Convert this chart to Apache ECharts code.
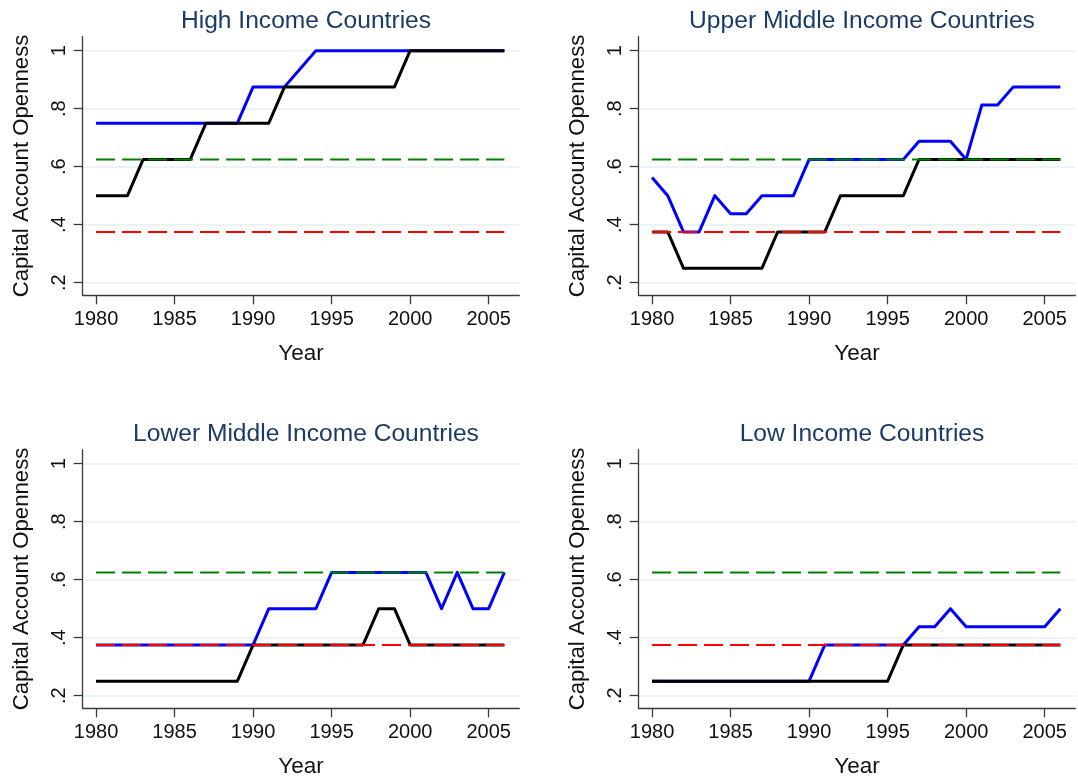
<!DOCTYPE html>
<html>
<head>
<meta charset="utf-8">
<script src="https://cdn.jsdelivr.net/npm/echarts@6/dist/echarts.min.js"></script>
<style>
  html, body { margin: 0; padding: 0; background: #ffffff; }
  #chart { width: 1078px; height: 781px; }
</style>
</head>
<body>
<div id="chart"></div>
<script>
// Years on the horizontal axis
const years = [1980, 1981, 1982, 1983, 1984, 1985, 1986, 1987, 1988, 1989,
               1990, 1991, 1992, 1993, 1994, 1995, 1996, 1997, 1998, 1999,
               2000, 2001, 2002, 2003, 2004, 2005, 2006];
const xTicks = [1980, 1985, 1990, 1995, 2000, 2005];
const yTicks = [0.2, 0.4, 0.6, 0.8, 1];

const panelTitles = ['High Income Countries', 'Upper Middle Income Countries',
                     'Lower Middle Income Countries', 'Low Income Countries'];

// Blue line per income group
const highBlue  = [0.75, 0.75, 0.75, 0.75, 0.75, 0.75, 0.75, 0.75, 0.75, 0.75,
                   0.875, 0.875, 0.875, 0.9375, 1, 1, 1, 1, 1, 1,
                   1, 1, 1, 1, 1, 1, 1];
const upperBlue = [0.5625, 0.5, 0.375, 0.375, 0.5, 0.4375, 0.4375, 0.5, 0.5, 0.5,
                   0.625, 0.625, 0.625, 0.625, 0.625, 0.625, 0.625, 0.6875, 0.6875, 0.6875,
                   0.625, 0.8125, 0.8125, 0.875, 0.875, 0.875, 0.875];
const lowerBlue = [0.375, 0.375, 0.375, 0.375, 0.375, 0.375, 0.375, 0.375, 0.375, 0.375,
                   0.375, 0.5, 0.5, 0.5, 0.5, 0.625, 0.625, 0.625, 0.625, 0.625,
                   0.625, 0.625, 0.5, 0.625, 0.5, 0.5, 0.625];
const lowBlue   = [0.25, 0.25, 0.25, 0.25, 0.25, 0.25, 0.25, 0.25, 0.25, 0.25,
                   0.25, 0.375, 0.375, 0.375, 0.375, 0.375, 0.375, 0.4375, 0.4375, 0.5,
                   0.4375, 0.4375, 0.4375, 0.4375, 0.4375, 0.4375, 0.5];

// Black line per income group
const highBlack  = [0.5, 0.5, 0.5, 0.625, 0.625, 0.625, 0.625, 0.75, 0.75, 0.75,
                    0.75, 0.75, 0.875, 0.875, 0.875, 0.875, 0.875, 0.875, 0.875, 0.875,
                    1, 1, 1, 1, 1, 1, 1];
const upperBlack = [0.375, 0.375, 0.25, 0.25, 0.25, 0.25, 0.25, 0.25, 0.375, 0.375,
                    0.375, 0.375, 0.5, 0.5, 0.5, 0.5, 0.5, 0.625, 0.625, 0.625,
                    0.625, 0.625, 0.625, 0.625, 0.625, 0.625, 0.625];
const lowerBlack = [0.25, 0.25, 0.25, 0.25, 0.25, 0.25, 0.25, 0.25, 0.25, 0.25,
                    0.375, 0.375, 0.375, 0.375, 0.375, 0.375, 0.375, 0.375, 0.5, 0.5,
                    0.375, 0.375, 0.375, 0.375, 0.375, 0.375, 0.375];
const lowBlack   = [0.25, 0.25, 0.25, 0.25, 0.25, 0.25, 0.25, 0.25, 0.25, 0.25,
                    0.25, 0.25, 0.25, 0.25, 0.25, 0.25, 0.375, 0.375, 0.375, 0.375,
                    0.375, 0.375, 0.375, 0.375, 0.375, 0.375, 0.375];

// Horizontal reference levels
const greenLevel = 0.625;
const redLevel = 0.375;
const refYears = [1980, 2006];

const blueSets  = [highBlue, upperBlue, lowerBlue, lowBlue];
const blackSets = [highBlack, upperBlack, lowerBlack, lowBlack];

// Panel placement (pixels)
const panelLeft = [82.7, 638.7, 82.7, 638.7];
const panelTop  = [36.7, 36.7, 449.7, 449.7];
const panelW = 436.6;
const panelH = 258.6;

const FONT = '"Liberation Sans", Arial, sans-serif';
const axisColor = '#3a3a3a';
const textColor = '#111111';

function fmtY(v) {
  const r = Math.round(v * 10) / 10;
  if (r === 1) return '1';
  return String(r).replace(/^0/, '');
}

const grids = [], xAxes = [], yAxes = [], series = [], titles = [];

for (let i = 0; i < 4; i++) {
  grids.push({ left: panelLeft[i], top: panelTop[i], width: panelW, height: panelH, containLabel: false });

  titles.push({
    text: panelTitles[i],
    left: panelLeft[i] + panelW / 2,
    top: panelTop[i] - 33,
    textAlign: 'center',
    textStyle: { fontFamily: FONT, fontSize: 24.6, fontWeight: 'normal', color: '#1c3a68' }
  });

  xAxes.push({
    gridIndex: i,
    type: 'value',
    min: 1979.15,
    max: 2006.95,
    name: 'Year',
    nameLocation: 'middle',
    nameGap: 47,
    nameTextStyle: { fontFamily: FONT, fontSize: 22.5, color: textColor },
    axisLine: { show: true, onZero: false, lineStyle: { color: axisColor, width: 1.3 } },
    axisTick: { show: true, inside: false, length: 9, customValues: xTicks, lineStyle: { color: axisColor, width: 1.3 } },
    axisLabel: { show: true, margin: 14, customValues: xTicks, fontFamily: FONT, fontSize: 20, color: textColor,
                 formatter: v => String(v) },
    splitLine: { show: false }
  });

  yAxes.push({
    gridIndex: i,
    type: 'value',
    min: 0.1566,
    max: 1.048,
    name: 'Capital Account Openness',
    nameLocation: 'middle',
    nameRotate: 90,
    nameGap: 50,
    nameTextStyle: { fontFamily: FONT, fontSize: 22.2, color: textColor },
    axisLine: { show: true, onZero: false, lineStyle: { color: axisColor, width: 1.3 } },
    axisTick: { show: true, inside: false, length: 9, customValues: yTicks, lineStyle: { color: axisColor, width: 1.3 } },
    axisLabel: { show: true, rotate: 90, margin: 13, customValues: yTicks, fontFamily: FONT, fontSize: 20, color: textColor,
                 formatter: fmtY },
    splitLine: { show: true, lineStyle: { color: '#e6eff2', width: 1.6 } }
  });

  series.push({
    type: 'line', xAxisIndex: i, yAxisIndex: i,
    data: years.map((y, k) => [y, blueSets[i][k]]),
    symbol: 'none', lineStyle: { color: '#0000ff', width: 3, join: 'round' }, z: 2
  });
  series.push({
    type: 'line', xAxisIndex: i, yAxisIndex: i,
    data: years.map((y, k) => [y, blackSets[i][k]]),
    symbol: 'none', lineStyle: { color: '#000000', width: 3, join: 'round' }, z: 3
  });
  series.push({
    type: 'line', xAxisIndex: i, yAxisIndex: i,
    data: refYears.map(y => [y, greenLevel]),
    symbol: 'none', lineStyle: { color: '#008000', width: 2, type: [19, 7], cap: 'butt' }, z: 4
  });
  series.push({
    type: 'line', xAxisIndex: i, yAxisIndex: i,
    data: refYears.map(y => [y, redLevel]),
    symbol: 'none', lineStyle: { color: '#ff0000', width: 2, type: [19, 7], cap: 'butt' }, z: 5
  });
}

const chart = echarts.init(document.getElementById('chart'), null, { renderer: 'canvas' });
chart.setOption({
  backgroundColor: '#ffffff',
  animation: false,
  title: titles,
  grid: grids,
  xAxis: xAxes,
  yAxis: yAxes,
  series: series
});
</script>
</body>
</html>
